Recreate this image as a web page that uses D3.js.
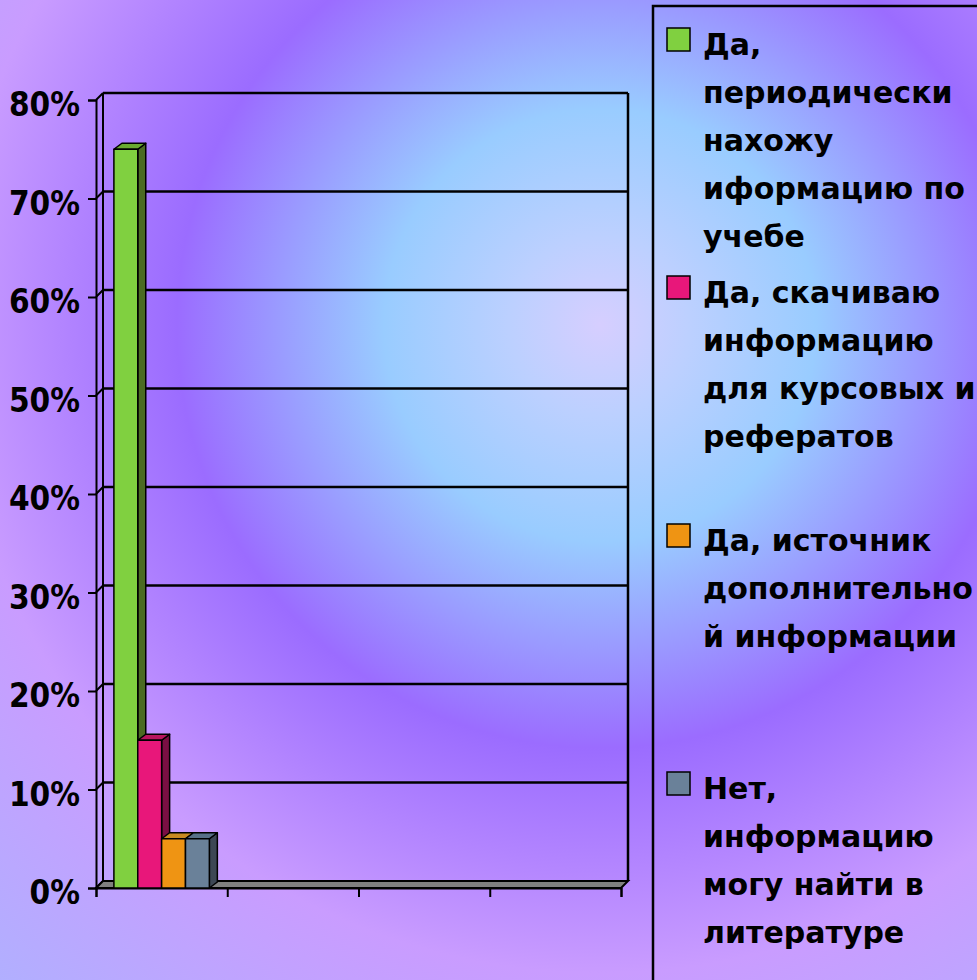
<!DOCTYPE html>
<html>
<head>
<meta charset="utf-8">
<script src="https://cdn.jsdelivr.net/npm/d3@7"></script>
<style>
  html, body { margin: 0; padding: 0; overflow: hidden; }
  svg { display: block; }
</style>
</head>
<body>
<svg id="chart"></svg>
<script>
// data
const categories = ["1", "2", "3", "4"];
const series = [
  "Да, периодически нахожу иформацию по учебе",
  "Да, скачиваю информацию для курсовых и рефератов",
  "Да, источник дополнительной информации",
  "Нет, информацию могу найти в литературе"
];
const values = [0.75, 0.15, 0.05, 0.05];   // all in the first category
const legendLines = [
  ["Да,", "периодически", "нахожу", "иформацию по", "учебе"],
  ["Да, скачиваю", "информацию", "для курсовых и", "рефератов"],
  ["Да, источник", "дополнительно", "й информации"],
  ["Нет,", "информацию", "могу найти в", "литературе"]
];
const yTicks = [0, 0.1, 0.2, 0.3, 0.4, 0.5, 0.6, 0.7, 0.8];

const colors = {
  front: ["#80d040", "#e8177a", "#ef9413", "#6a8199"],
  side:  ["#4b6b23", "#7a0f43", "#8a5a10", "#3d4754"],
  top:   ["#6aaa30", "#b8155f", "#c88a20", "#587088"]
};

const W = 977, H = 980;
const depth = { x: 7, y: -7 };

const svg = d3.select('#chart')
  .attr('width', W)
  .attr('height', H);

// background gradient
const defs = svg.append('defs');
const bg = defs.append('radialGradient')
  .attr('id', 'bg')
  .attr('gradientUnits', 'userSpaceOnUse')
  .attr('cx', 600).attr('cy', 325).attr('r', 900);
[
  [0.0, '#d6ceff'],
  [0.1, '#bcd0ff'],
  [0.24, '#99ccff'],
  [0.47, '#9b6cff'],
  [0.72, '#c99cff'],
  [1.0, '#b0b0ff']
].forEach(([o, c]) => bg.append('stop').attr('offset', o).attr('stop-color', c));

svg.append('rect')
  .attr('width', W)
  .attr('height', H)
  .attr('fill', 'url(#bg)');

const x = d3.scaleLinear()
  .domain([0, categories.length])
  .range([96, 621]);

const y = d3.scaleLinear()
  .domain([0, 0.8])
  .range([888, 100]);

const xs = d3.scaleBand()
  .domain(series)
  .range([x(0), x(1)])
  .paddingInner(0)
  .paddingOuter(0.75);

const g = svg.append('g');

// back wall gridlines
g.append('g')
  .selectAll('line')
  .data(yTicks.filter(d => d > 0))
  .join('line')
  .attr('x1', x(0) + depth.x)
  .attr('x2', x(4) + depth.x)
  .attr('y1', d => y(d) + depth.y)
  .attr('y2', d => y(d) + depth.y)
  .attr('stroke', '#000')
  .attr('stroke-width', 2.5);

// left wall: diagonal connectors
g.append('g')
  .selectAll('line')
  .data(yTicks)
  .join('line')
  .attr('x1', x(0))
  .attr('x2', x(0) + depth.x)
  .attr('y1', d => y(d))
  .attr('y2', d => y(d) + depth.y)
  .attr('stroke', '#000')
  .attr('stroke-width', 2);

// wall edges
g.append('line')
  .attr('x1', x(0) + depth.x).attr('x2', x(0) + depth.x)
  .attr('y1', y(0.8) + depth.y).attr('y2', y(0) + depth.y)
  .attr('stroke', '#000').attr('stroke-width', 2);
g.append('line')
  .attr('x1', x(4) + depth.x).attr('x2', x(4) + depth.x)
  .attr('y1', y(0.8) + depth.y).attr('y2', y(0) + depth.y)
  .attr('stroke', '#000').attr('stroke-width', 2.5);

// floor
g.append('path')
  .attr('d', `M${x(0)},${y(0)} L${x(4)},${y(0)} L${x(4) + depth.x},${y(0) + depth.y} L${x(0) + depth.x},${y(0) + depth.y} Z`)
  .attr('fill', '#808080')
  .attr('stroke', '#000')
  .attr('stroke-width', 2);

// axes
const yAxis = d3.axisLeft(y)
  .tickValues(yTicks)
  .tickFormat(d3.format('.0%'))
  .tickSize(8)
  .tickPadding(7);

const yG = g.append('g')
  .attr('transform', `translate(${x(0)},0)`)
  .call(yAxis);
yG.select('.domain').attr('stroke', '#000').attr('stroke-width', 2);
yG.selectAll('.tick line').attr('stroke', '#000').attr('stroke-width', 2);
yG.selectAll('.tick text')
  .attr('fill', '#000')
  .attr('x', -16)
  .attr('dy', '0.47em')
  .style('font-family', '"DejaVu Sans Condensed", "Liberation Sans", sans-serif')
  .style('font-weight', 'bold')
  .style('font-size', '33px');

const xAxis = d3.axisBottom(x)
  .tickValues(d3.range(categories.length + 1))
  .tickFormat('')
  .tickSize(9);

const xG = g.append('g')
  .attr('transform', `translate(0,${y(0)})`)
  .call(xAxis);
xG.select('.domain').attr('stroke', '#000').attr('stroke-width', 2);
xG.selectAll('.tick line').attr('stroke', '#000').attr('stroke-width', 2);

// 3d bars
const bd = { x: 8, y: -6 };
const bars = g.append('g')
  .selectAll('g')
  .data(values)
  .join('g');

bars.each(function(v, i) {
  const b = d3.select(this);
  const x0 = xs(series[i]);
  const x1 = x0 + xs.bandwidth();
  const yt = y(v), yb = y(0);
  b.append('path')
    .attr('d', `M${x1},${yt} L${x1 + bd.x},${yt + bd.y} L${x1 + bd.x},${yb + bd.y} L${x1},${yb} Z`)
    .attr('fill', colors.side[i]);
  b.append('path')
    .attr('d', `M${x0},${yt} L${x0 + bd.x},${yt + bd.y} L${x1 + bd.x},${yt + bd.y} L${x1},${yt} Z`)
    .attr('fill', colors.top[i]);
  b.append('rect')
    .attr('x', x0)
    .attr('y', yt)
    .attr('width', xs.bandwidth())
    .attr('height', yb - yt)
    .attr('fill', colors.front[i]);
  b.selectAll('path, rect')
    .attr('stroke', '#000')
    .attr('stroke-width', 1.5)
    .attr('stroke-linejoin', 'round');
});

// legend
const legend = svg.append('g');
legend.append('path')
  .attr('d', `M653,${H + 5} L653,6 L${W + 5},6`)
  .attr('fill', 'none')
  .attr('stroke', '#000')
  .attr('stroke-width', 2.5);

const entryStep = 248, lineStep = 48, firstBase = 55;
const items = legend.selectAll('g.item')
  .data(series)
  .join('g')
  .attr('class', 'item')
  .attr('transform', (d, i) => `translate(0,${firstBase + i * entryStep})`);

items.append('rect')
  .attr('x', 667)
  .attr('y', -27)
  .attr('width', 23)
  .attr('height', 23)
  .attr('fill', (d, i) => colors.front[i])
  .attr('stroke', '#000')
  .attr('stroke-width', 1.5);

items.append('text')
  .attr('x', 703)
  .style('font-family', '"DejaVu Sans", sans-serif')
  .style('font-weight', 'bold')
  .style('font-size', '30px')
  .attr('fill', '#000')
  .selectAll('tspan')
  .data((d, i) => legendLines[i])
  .join('tspan')
  .attr('x', 703)
  .attr('y', (d, j) => j * lineStep)
  .text(d => d);
</script>
</body>
</html>
